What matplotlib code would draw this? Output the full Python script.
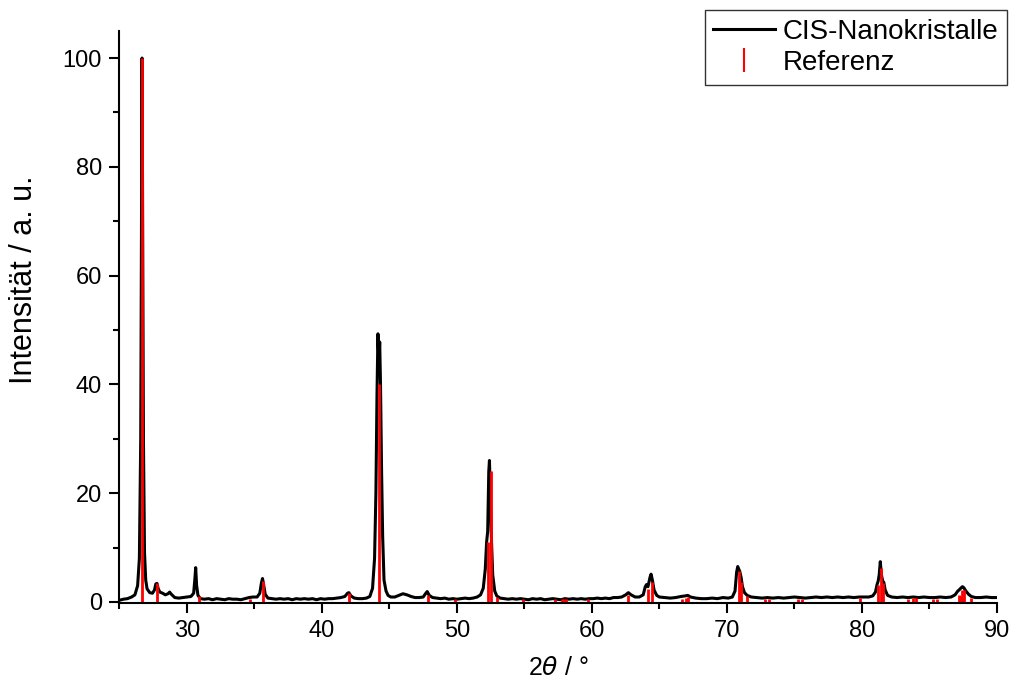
import matplotlib
matplotlib.use("Agg")
import matplotlib.pyplot as plt
from matplotlib.lines import Line2D
from matplotlib.ticker import MultipleLocator

plt.rcParams['font.family'] = ['Liberation Sans', 'DejaVu Sans']
plt.rcParams['mathtext.fontset'] = 'dejavusans'

two_theta = [
    25.0, 25.3, 25.6, 25.9, 26.15, 26.35, 26.48, 26.58, 26.64, 26.68, 26.72, 26.78, 26.86, 26.95,
    27.05, 27.25, 27.45, 27.6, 27.7, 27.78, 27.88, 28.0, 28.2, 28.4, 28.6, 28.72, 28.85, 29.1,
    29.4, 29.7, 30.0, 30.3, 30.5, 30.6, 30.65, 30.72, 30.82, 31.0, 31.3, 31.6, 31.9, 32.2,
    32.5, 32.8, 33.1, 33.4, 33.7, 34.0, 34.3, 34.6, 34.9, 35.2, 35.4, 35.52, 35.6, 35.68,
    35.8, 36.0, 36.3, 36.6, 36.9, 37.2, 37.5, 37.8, 38.1, 38.4, 38.7, 39.0, 39.3, 39.6,
    39.9, 40.2, 40.5, 40.8, 41.1, 41.4, 41.7, 41.9, 42.0, 42.15, 42.4, 42.7, 43.0, 43.3,
    43.55, 43.75, 43.9, 44.0, 44.08, 44.15, 44.22, 44.28, 44.34, 44.42, 44.5, 44.6, 44.75, 44.9,
    45.1, 45.4, 45.7, 46.0, 46.3, 46.6, 46.9, 47.2, 47.5, 47.7, 47.8, 47.95, 48.2, 48.5,
    48.8, 49.1, 49.4, 49.7, 50.0, 50.3, 50.6, 50.9, 51.2, 51.5, 51.75, 51.95, 52.1, 52.2,
    52.28, 52.36, 52.41, 52.47, 52.55, 52.65, 52.8, 52.95, 53.2, 53.5, 53.8, 54.1, 54.4, 54.7,
    55.0, 55.3, 55.6, 55.9, 56.2, 56.5, 56.8, 57.1, 57.4, 57.7, 58.0, 58.3, 58.6, 58.9,
    59.2, 59.5, 59.8, 60.1, 60.4, 60.7, 61.0, 61.3, 61.6, 61.9, 62.2, 62.5, 62.7, 62.9,
    63.2, 63.5, 63.8, 63.95, 64.05, 64.15, 64.3, 64.38, 64.48, 64.6, 64.8, 65.0, 65.4, 65.8,
    66.2, 66.6, 66.9, 67.1, 67.3, 67.7, 68.1, 68.5, 68.9, 69.3, 69.7, 70.1, 70.4, 70.6,
    70.72, 70.8, 70.88, 70.95, 71.05, 71.15, 71.3, 71.5, 71.8, 72.2, 72.6, 73.0, 73.4, 73.8,
    74.2, 74.6, 75.0, 75.4, 75.8, 76.2, 76.6, 77.0, 77.4, 77.8, 78.2, 78.6, 79.0, 79.4,
    79.8, 80.2, 80.5, 80.8, 81.0, 81.12, 81.2, 81.28, 81.36, 81.44, 81.54, 81.62, 81.72, 81.9,
    82.2, 82.6, 83.0, 83.4, 83.8, 84.2, 84.6, 85.0, 85.4, 85.8, 86.2, 86.6, 86.9, 87.1,
    87.2, 87.35, 87.45, 87.55, 87.7, 87.9, 88.1, 88.4, 88.8, 89.2, 89.6, 90.0,
]
intensity = [
    0.3, 0.5, 0.6, 0.9, 1.3, 3.0, 8.0, 30.0, 70.0, 100.0, 70.0, 30.0, 9.0, 4.0,
    2.4, 1.7, 1.6, 2.2, 3.3, 3.4, 2.4, 1.8, 1.6, 1.3, 1.5, 1.8, 1.4, 0.8,
    0.7, 0.8, 0.9, 1.0, 1.6, 4.5, 6.3, 3.0, 1.2, 0.6, 0.5, 0.6, 0.4, 0.6,
    0.5, 0.4, 0.6, 0.5, 0.5, 0.4, 0.6, 0.8, 0.9, 0.9, 1.6, 3.5, 4.3, 3.2,
    1.4, 0.7, 0.6, 0.5, 0.6, 0.5, 0.6, 0.4, 0.6, 0.5, 0.6, 0.5, 0.6, 0.4,
    0.6, 0.5, 0.6, 0.6, 0.7, 0.8, 1.0, 1.6, 1.7, 1.1, 0.7, 0.6, 0.6, 0.7,
    1.0, 2.5, 8.0, 20.0, 38.0, 49.3, 44.0, 47.8, 40.0, 24.0, 12.0, 4.0, 2.0, 1.2,
    0.9, 0.9, 1.2, 1.5, 1.3, 1.0, 0.8, 0.8, 0.9, 1.6, 1.9, 1.2, 0.8, 0.7,
    0.6, 0.7, 0.5, 0.6, 0.5, 0.6, 0.7, 0.6, 0.7, 0.9, 1.3, 2.5, 6.0, 11.0,
    13.0, 24.0, 26.0, 20.0, 12.0, 5.0, 2.0, 1.1, 0.7, 0.6, 0.5, 0.6, 0.5, 0.6,
    0.5, 0.4, 0.6, 0.5, 0.6, 0.4, 0.5, 0.6, 0.5, 0.4, 0.6, 0.5, 0.6, 0.5,
    0.6, 0.5, 0.6, 0.6, 0.7, 0.6, 0.7, 0.6, 0.8, 0.8, 0.9, 1.3, 1.7, 1.3,
    0.9, 0.9, 1.3, 2.8, 3.2, 2.8, 4.5, 5.1, 4.0, 2.2, 1.2, 0.9, 0.8, 0.7,
    0.8, 1.0, 1.1, 1.2, 0.9, 0.7, 0.6, 0.6, 0.7, 0.6, 0.8, 0.7, 0.9, 2.0,
    5.5, 6.5, 6.0, 5.6, 4.5, 2.8, 1.7, 1.2, 0.9, 0.8, 0.7, 0.8, 0.7, 0.8,
    0.7, 0.8, 0.9, 0.8, 0.7, 0.8, 0.9, 0.8, 0.9, 0.8, 0.9, 0.8, 0.9, 0.8,
    0.9, 0.9, 0.9, 1.1, 1.8, 3.2, 3.8, 5.0, 7.4, 5.0, 3.8, 3.6, 2.2, 1.2,
    0.9, 0.8, 0.9, 0.8, 0.9, 0.8, 0.9, 0.8, 0.8, 0.9, 0.8, 0.9, 1.3, 2.0,
    2.2, 2.6, 2.8, 2.6, 2.0, 1.4, 1.0, 0.8, 0.8, 0.9, 0.8, 0.8,
]

# reference stick pattern
ref_pos = [26.68, 27.76, 30.92, 34.67, 35.6, 41.99, 44.25, 47.88, 49.86, 52.33, 52.50, 52.95,
           54.92, 57.27, 57.76, 57.93, 58.08, 59.73, 62.70, 64.18, 64.45, 66.65, 66.97, 67.14,
           70.88, 71.02, 71.47, 72.82, 73.14, 75.24, 75.54, 79.86, 81.21, 81.39, 81.54,
           83.44, 83.81, 83.99, 85.29, 85.54, 87.19, 87.3, 87.44, 87.55, 88.08]
ref_int = [100, 3.4, 1.0, 0.5, 3.8, 1.7, 40, 1.3, 0.5, 11, 24, 0.9,
           0.6, 0.5, 0.5, 0.5, 0.5, 0.5, 1.2, 2.3, 3.7, 0.5, 0.7, 0.9,
           5.6, 3.7, 1.0, 0.5, 0.5, 0.5, 0.5, 0.8, 3.1, 6.3, 3.4,
           0.5, 0.7, 0.8, 0.5, 0.5, 1.2, 1.0, 2.1, 2.1, 0.7]

fig = plt.figure(figsize=(10.11, 6.86), dpi=100)
ax = fig.add_axes([0.1181, 0.121, 0.868, 0.834])

ax.plot(two_theta, intensity, color='black', lw=2.2)
ax.vlines(ref_pos, 0, ref_int, color='red', lw=2)

ax.set_xlim(25, 90)
ax.set_ylim(-0.2, 105)
ax.xaxis.set_major_locator(MultipleLocator(10))
ax.xaxis.set_minor_locator(MultipleLocator(5))
ax.yaxis.set_major_locator(MultipleLocator(20))
ax.yaxis.set_minor_locator(MultipleLocator(10))

for s in ['top', 'right']:
    ax.spines[s].set_visible(False)
for s in ['left', 'bottom']:
    ax.spines[s].set_linewidth(1.5)
ax.tick_params(which='major', direction='out', length=7.5, width=1.5, labelsize=17, pad=5)
ax.tick_params(which='minor', direction='out', length=4, width=1.5)

ax.set_xlabel('2$\\theta$ / °', fontsize=18, labelpad=10)
ax.set_ylabel('Intensität / a. u.', fontsize=22)
ax.yaxis.set_label_coords(-0.092, 0.565)

handles = [Line2D([], [], color='black', lw=2.2),
           Line2D([], [], color='red', marker='|', ls='none', markersize=17, markeredgewidth=1.5)]
leg = fig.legend(handles, ['CIS-Nanokristalle', 'Referenz'], loc='upper right',
                 bbox_to_anchor=(0.996, 0.985), fontsize=20, frameon=True, fancybox=False,
                 borderaxespad=0, handlelength=2.2, handletextpad=0.3, labelspacing=0.2,
                 borderpad=0.3)
leg.get_frame().set_edgecolor('black')
leg.get_frame().set_linewidth(1)

fig.savefig('out.png', dpi=100)
